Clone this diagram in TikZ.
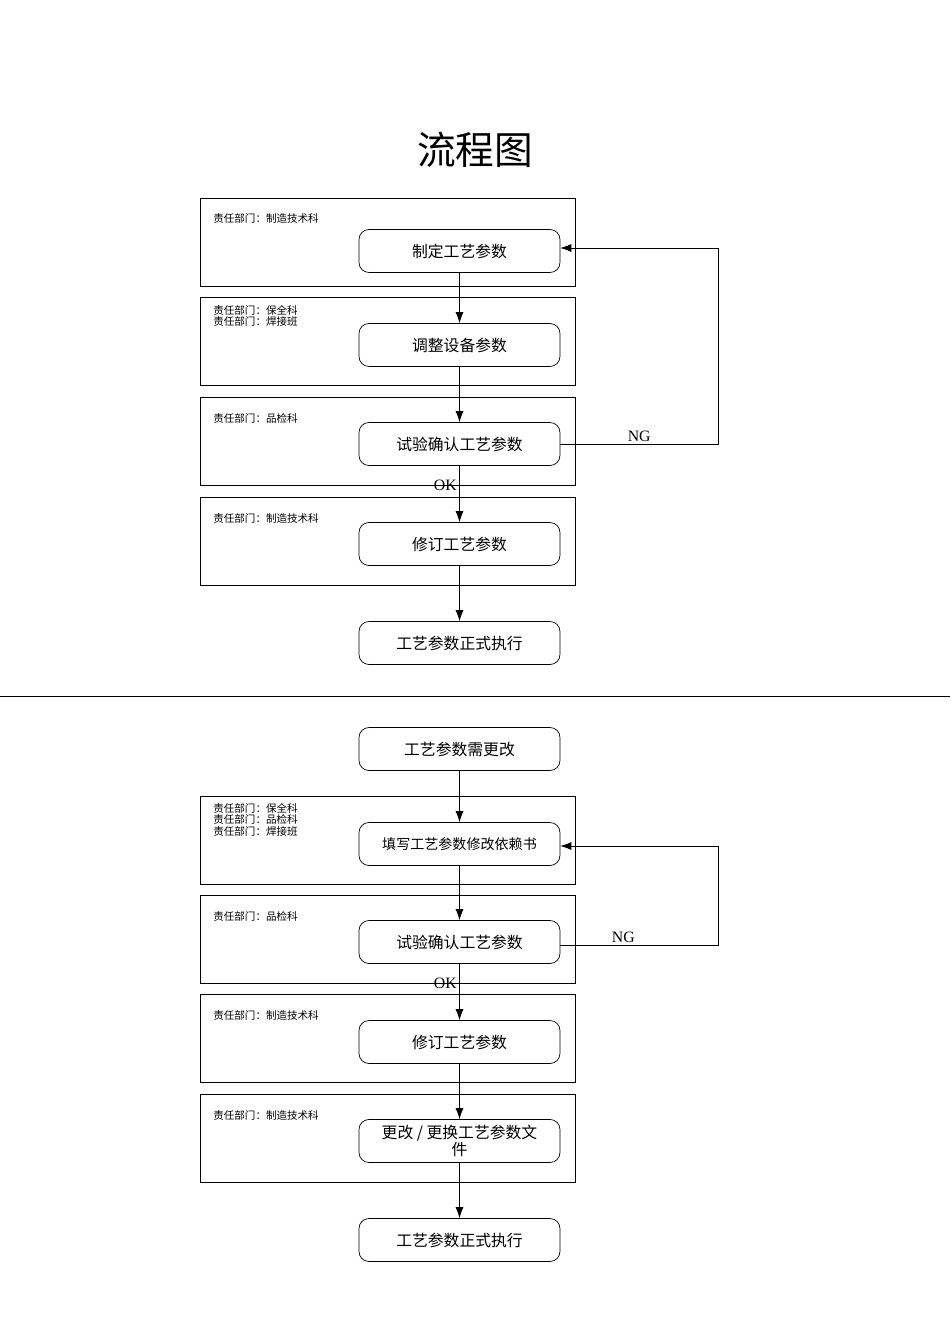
\documentclass[tikz,border=0pt]{standalone}
\usepackage{fontspec}
\setmainfont{Liberation Serif}
\newfontfamily\cjk{Noto Sans CJK SC}
\usetikzlibrary{arrows.meta,positioning}

\begin{document}
\begin{tikzpicture}[x=0.02cm, y=-0.02cm, font=\cjk]
    \tikzset{
        lane/.style     =   { rectangle
                            , draw=black
                            , minimum width=7.5cm
                            , minimum height=1.76cm
        }
        , proc/.style   =   { rectangle
                            , rounded corners=0.2cm
                            , draw=black
                            , align=center
                            , minimum width=4.02cm
                            , minimum height=0.86cm
                            , font=\cjk\fontsize{9}{10}\selectfont
        }
        , dept/.style   =   { anchor=north west
                            , align=left
                            , inner sep=0pt
                            , font=\cjk\fontsize{6}{6.5}\selectfont
        }
        , arrow/.style  =   { -{Latex[length=2.2mm,width=1.6mm]}
        }
        , tag/.style    =   { font=\fontsize{9}{10}\selectfont
        }
    }
    \useasboundingbox (0,0) rectangle (950,1344);

    \node at (475,150) {\fontsize{22}{24}\selectfont 流程图};

    % upper flow
    \node(l1)[lane] at (387.5,242) {};
    \node(l2)[lane] at (387.5,341.5) {};
    \node(l3)[lane] at (387.5,441) {};
    \node(l4)[lane] at (387.5,541) {};
    \node[dept] at (213,213) {责任部门：制造技术科};
    \node[dept] at (213,305) {责任部门：保全科\\责任部门：焊接班};
    \node[dept] at (213,413) {责任部门：品检科};
    \node[dept] at (213,513) {责任部门：制造技术科};

    \node(a1)[proc] at (459.5,251) {制定工艺参数};
    \node(a2)[proc] at (459.5,345) {调整设备参数};
    \node(a3)[proc] at (459.5,444) {试验确认工艺参数};
    \node(a4)[proc] at (459.5,544) {修订工艺参数};
    \node(a5)[proc] at (459.5,643) {工艺参数正式执行};
    \coordinate(c1) at (718,444);
    \coordinate(c2) at (718,248);

    \draw[arrow] (a1) -- (a2);
    \draw[arrow] (a2) -- (a3);
    \draw[arrow] (a3) -- node[tag, pos=0.35, left=-2pt] {OK} (a4);
    \draw[arrow] (a4) -- (a5);
    \draw[arrow] (a3.east) -- node[tag, above=-2pt, pos=0.5] {NG} (c1) -- (c2) -- (a1.east |- c2);

    \draw (0,696) -- (950,696);

    % lower flow
    \node(m1)[lane] at (387.5,840) {};
    \node(m2)[lane] at (387.5,939) {};
    \node(m3)[lane] at (387.5,1038) {};
    \node(m4)[lane] at (387.5,1138) {};
    \node[dept] at (213,803) {责任部门：保全科\\责任部门：品检科\\责任部门：焊接班};
    \node[dept] at (213,911) {责任部门：品检科};
    \node[dept] at (213,1010) {责任部门：制造技术科};
    \node[dept] at (213,1110) {责任部门：制造技术科};

    \node(b0)[proc] at (459.5,749) {工艺参数需更改};
    \node(b1)[proc, font=\cjk\fontsize{8}{9}\selectfont] at (459.5,844) {填写工艺参数修改依赖书};
    \node(b2)[proc] at (459.5,942) {试验确认工艺参数};
    \node(b3)[proc] at (459.5,1042) {修订工艺参数};
    \node(b4)[proc, font=\cjk\fontsize{9}{9.5}\selectfont] at (459.5,1141) {更改 / 更换工艺参数文\\件};
    \node(b5)[proc] at (459.5,1240) {工艺参数正式执行};
    \coordinate(d1) at (718,945);
    \coordinate(d2) at (718,846);

    \draw[arrow] (b0) -- (b1);
    \draw[arrow] (b1) -- (b2);
    \draw[arrow] (b2) -- node[tag, pos=0.35, left=-2pt] {OK} (b3);
    \draw[arrow] (b3) -- (b4);
    \draw[arrow] (b4) -- (b5);
    \draw[arrow] (b2.east |- d1) -- node[tag, above=-2pt, pos=0.4] {NG} (d1) -- (d2) -- (b1.east |- d2);
\end{tikzpicture}
\end{document}
